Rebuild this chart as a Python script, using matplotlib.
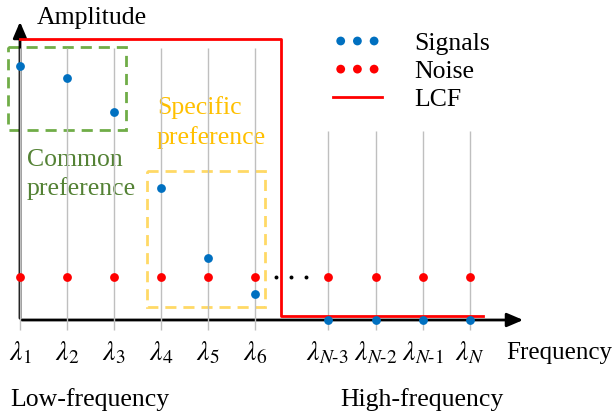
import numpy as np
import matplotlib
matplotlib.use('Agg')
import matplotlib.pyplot as plt
from matplotlib.lines import Line2D
from matplotlib.patches import Rectangle, FancyArrowPatch

plt.rcParams['font.family'] = ['Liberation Serif', 'DejaVu Serif']
plt.rcParams['mathtext.fontset'] = 'stix'

# Data
low_labels = [r'$\lambda_1$', r'$\lambda_2$', r'$\lambda_3$',
              r'$\lambda_4$', r'$\lambda_5$', r'$\lambda_6$']
high_labels = [r'$\lambda_{N\text{-}3}$', r'$\lambda_{N\text{-}2}$',
               r'$\lambda_{N\text{-}1}$', r'$\lambda_N$']
low_pos = [0, 1, 2, 3, 4, 5]
high_pos = [6.55, 7.57, 8.57, 9.57]
dots_pos = [5.45, 5.77, 6.09]

signal_low = [0.904, 0.862, 0.741, 0.471, 0.220, 0.094]
signal_high = [0.0, 0.0, 0.0, 0.0]
noise_low = [0.154, 0.154, 0.154, 0.154, 0.154, 0.154]
noise_high = [0.154, 0.154, 0.154, 0.154]

lcf_x = [0, 5.553, 5.553, 9.85]
lcf_y = [1.0, 1.0, 0.015, 0.015]

# colours
blue = '#0070C0'
red = '#FF0000'
grid_c = '#BFBFBF'
green_box = '#70AD47'
green_txt = '#548235'
yel_box = '#FFD966'
yel_txt = '#FFC000'

W, H = 614, 413
fig = plt.figure(figsize=(W / 100, H / 100), dpi=100)

# pixel layout axes (for texts, boxes, arrows)
lay = fig.add_axes([0, 0, 1, 1])
lay.set_xlim(0, W)
lay.set_ylim(H, 0)
lay.axis('off')

# data axes: x in category units (47 px), y amplitude (281 px), origin at pixel (20, 320)
ax = fig.add_axes([0, 0, 1, 1])
ax.set_xlim(-20 / 47, (W - 20) / 47)
ax.set_ylim(-(H - 320) / 281, 320 / 281)
ax.axis('off')
ax.patch.set_alpha(0)

# grid lines
ax.vlines(low_pos, -0.036, 0.968, color=grid_c, lw=1, zorder=1)
ax.vlines(high_pos, -0.036, 0.673, color=grid_c, lw=1, zorder=1)

# axes arrows
for start, end in [((20, 321), (20, 19)), ((19, 320), (526, 320))]:
    lay.add_patch(FancyArrowPatch(start, end, arrowstyle='-|>,head_length=0.75,head_width=0.32',
                                  mutation_scale=13, color='black', lw=2, zorder=3))

# LCF
ax.plot(lcf_x, lcf_y, color=red, lw=2, zorder=4)

# points
ax.scatter(low_pos + high_pos, noise_low + noise_high, s=40, color=red, zorder=5, linewidths=0)
ax.scatter(low_pos + high_pos, signal_low + signal_high, s=40, color=blue, zorder=6, linewidths=0)
ax.scatter(dots_pos, [0.154] * 3, s=8, color='black', zorder=5, linewidths=0)

# tick labels
for p, lab in zip(low_pos + high_pos, low_labels + high_labels):
    ax.text(p, -0.117, lab, ha='center', va='center', fontsize=20)

# boxes
lay.add_patch(Rectangle((8, 47), 118, 83, fill=False, ec=green_box, lw=2,
                        ls=(0, (4, 2.5)), zorder=2))
lay.add_patch(Rectangle((147, 171), 118, 136, fill=False, ec=yel_box, lw=2,
                        ls=(0, (4, 2.5)), zorder=2))

# texts
fs = 18.5
lay.text(37, 18, 'Amplitude', ha='left', va='center', fontsize=fs)
lay.text(506, 353, 'Frequency', ha='left', va='center', fontsize=18)
lay.text(10, 400, 'Low-frequency', ha='left', va='center', fontsize=fs)
lay.text(340, 400, 'High-frequency', ha='left', va='center', fontsize=fs)
lay.text(27, 160, 'Common', ha='left', va='center', fontsize=fs, color=green_txt)
lay.text(27, 189, 'preference', ha='left', va='center', fontsize=fs, color=green_txt)
lay.text(157, 108, 'Specific', ha='left', va='center', fontsize=fs, color=yel_txt)
lay.text(157, 138, 'preference', ha='left', va='center', fontsize=fs, color=yel_txt)

# legend
handles = [
    ax.scatter([], [], s=40, color=blue, linewidths=0, label='Signals'),
    ax.scatter([], [], s=40, color=red, linewidths=0, label='Noise'),
    Line2D([], [], color=red, lw=2, label='LCF'),
]
ax.legend(handles=handles, loc='upper left', bbox_to_anchor=(333 / W, 1 - 32 / H),
          frameon=False, scatterpoints=3, scatteryoffsets=[0.5], fontsize=fs,
          handlelength=1.9, handletextpad=1.28, labelspacing=0.2, borderpad=0,
          borderaxespad=0)

fig.savefig('out.png', dpi=100)
